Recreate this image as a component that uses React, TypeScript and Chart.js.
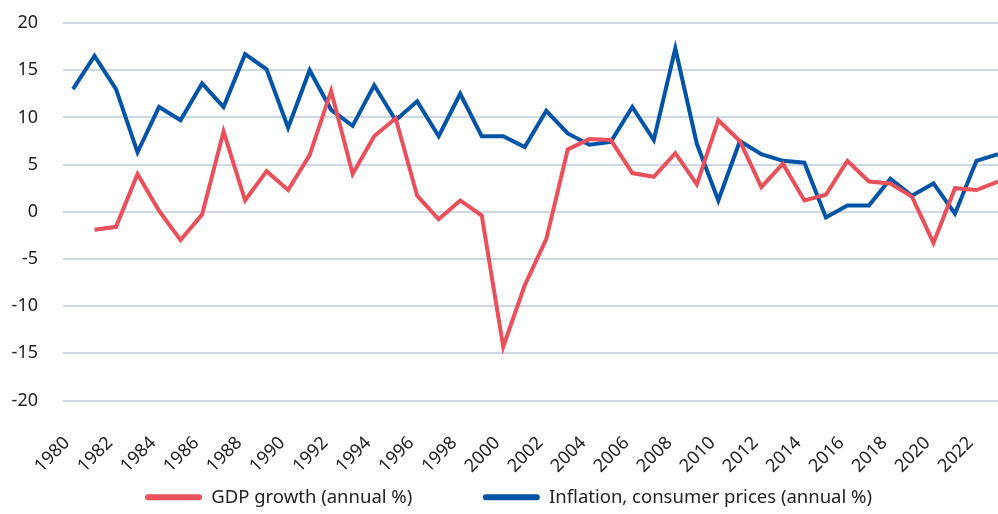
import React, { useEffect, useRef } from "react";
import { Chart, registerables } from "chart.js";

Chart.register(...registerables);

const years: string[] = [];
for (let y = 1980; y <= 2023; y++) years.push(String(y));

const gdpGrowth: (number | null)[] = [
  null, -1.9, -1.6, 4.0, 0.1, -3.0, -0.3, 8.5, 1.2, 4.3,
  2.3, 6.0, 12.8, 4.0, 8.0, 9.9, 1.7, -0.8, 1.2, -0.4,
  -14.3, -7.8, -2.9, 6.6, 7.7, 7.6, 4.1, 3.7, 6.2, 2.9,
  9.7, 7.5, 2.6, 5.1, 1.2, 1.8, 5.4, 3.2, 3.0, 1.6,
  -3.3, 2.5, 2.3, 3.2,
];

const inflation: number[] = [
  13.0, 16.5, 13.0, 6.3, 11.1, 9.7, 13.6, 11.1, 16.7, 15.1,
  8.9, 15.0, 10.8, 9.1, 13.4, 9.7, 11.7, 8.0, 12.5, 8.0,
  8.0, 6.85, 10.7, 8.3, 7.1, 7.4, 11.1, 7.6, 17.3, 7.2,
  1.2, 7.5, 6.1, 5.4, 5.2, -0.6, 0.67, 0.67, 3.5, 1.7,
  3.0, -0.2, 5.4, 6.1,
];

const seriesNames = ["GDP growth (annual %)", "Inflation, consumer prices (annual %)"];
const yTicks = [20, 15, 10, 5, 0, -5, -10, -15, -20];

const FONT = "'Noto Sans'";

const legendPlace = {
  id: "legendPlace",
  afterLayout(chart: any) {
    const lg = chart.legend;
    if (lg) {
      lg.left = 137;
      lg.right = 998;
      lg.top = 480;
      lg.bottom = 514;
    }
  },
};

export default function App() {
  const ref = useRef<HTMLCanvasElement | null>(null);
  useEffect(() => {
    if (!ref.current) return;
    const chart = new Chart(ref.current, {
      type: "line",
      plugins: [legendPlace],
      data: {
        labels: years,
        datasets: [
          {
            label: seriesNames[0],
            data: gdpGrowth,
            borderColor: "#E8505B",
            backgroundColor: "#E8505B",
            borderWidth: 4,
            pointRadius: 0,
            tension: 0,
          },
          {
            label: seriesNames[1],
            data: inflation,
            borderColor: "#0054A5",
            backgroundColor: "#0054A5",
            borderWidth: 4,
            pointRadius: 0,
            tension: 0,
          },
        ],
      },
      options: {
        animation: false,
        responsive: true,
        maintainAspectRatio: false,
        layout: { padding: { top: 23, left: 0, right: 0, bottom: 0 } },
        plugins: {
          tooltip: { enabled: false },
          legend: {
            position: "bottom",
            align: "start",
            labels: {
              boxWidth: 57,
              boxHeight: 6,
              useBorderRadius: true,
              borderRadius: 3,
              padding: 8,
              color: "#222",
              font: { family: FONT, size: 18.5 },
              generateLabels: (c: any) => {
                const items = Chart.defaults.plugins.legend.labels.generateLabels(c);
                return items.map((it: any, i: number) => ({
                  ...it,
                  lineWidth: 0,
                  text: i === 0 ? it.text + "             " : it.text,
                }));
              },
            },
          },
        },
        scales: {
          x: {
            offset: false,
            grid: { display: false },
            border: { display: false },
            ticks: {
              autoSkip: false,
              maxRotation: 45,
              minRotation: 45,
              padding: 24,
              labelOffset: -6,
              color: "#222",
              font: { family: FONT, size: 18 },
              callback: (_v: any, i: number) => (i % 2 === 0 ? years[i] : null),
            },
            afterFit: (s: any) => {
              s.height = 77;
              s.paddingLeft = 0;
              s.paddingRight = 0;
            },
          },
          y: {
            min: -20,
            max: 20,
            afterBuildTicks: (s: any) => {
              s.ticks = yTicks.map((v) => ({ value: v }));
            },
            grid: {
              color: "#CED8E4",
              lineWidth: 2,
              drawTicks: true,
              tickLength: 10,
            },
            border: { display: false },
            ticks: {
              padding: 25,
              color: "#222",
              font: { family: FONT, size: 18 },
            },
            afterFit: (s: any) => {
              s.width = 73;
              s.paddingTop = 0;
              s.paddingBottom = 0;
            },
          },
        },
      },
    });
    return () => chart.destroy();
  }, []);
  return (
    <div style={{ position: "fixed", left: 0, top: 0, width: 998, height: 514, background: "#fff" }}>
      <canvas ref={ref} />
    </div>
  );
}
